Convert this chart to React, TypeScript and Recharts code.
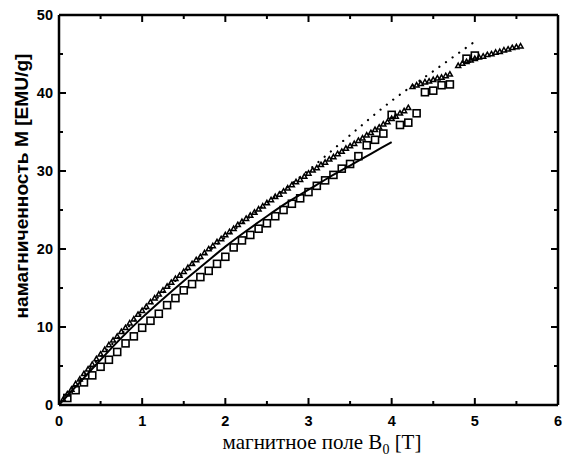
import { ComposedChart, Line, Scatter, XAxis, YAxis, Label } from 'recharts';

// squares (measured M vs B0)
const squareB = [0.1, 0.2, 0.3, 0.4, 0.5, 0.6, 0.7, 0.8, 0.9, 1.0, 1.1, 1.2, 1.3, 1.4, 1.5, 1.6, 1.7, 1.8, 1.9, 2.0, 2.1, 2.2, 2.3, 2.4, 2.5, 2.6, 2.7, 2.8, 2.9, 3.0, 3.1, 3.2, 3.3, 3.4, 3.5, 3.6, 3.7, 3.8, 3.9, 4.0, 4.1, 4.2, 4.3, 4.4, 4.5, 4.6, 4.7, 4.9, 5.0];
const squareM = [0.9, 1.9, 2.9, 3.8, 4.9, 5.8, 6.8, 7.9, 8.8, 9.9, 10.8, 11.7, 12.8, 13.7, 14.7, 15.5, 16.4, 17.2, 18.1, 19.0, 20.2, 21.1, 21.8, 22.6, 23.3, 24.2, 25.0, 25.8, 26.5, 27.3, 28.1, 28.8, 29.5, 30.3, 30.9, 31.9, 33.3, 34.0, 34.8, 37.2, 35.9, 36.2, 37.4, 40.1, 40.3, 41.0, 41.1, 44.4, 44.8];

// triangles (second sample)
const triangleB = [0.05, 0.1, 0.15, 0.2, 0.25, 0.3, 0.35, 0.4, 0.45, 0.5, 0.55, 0.6, 0.65, 0.7, 0.75, 0.8, 0.85, 0.9, 0.95, 1.0, 1.05, 1.1, 1.15, 1.2, 1.25, 1.3, 1.35, 1.4, 1.45, 1.5, 1.55, 1.6, 1.65, 1.7, 1.75, 1.8, 1.85, 1.9, 1.95, 2.0, 2.05, 2.1, 2.15, 2.2, 2.25, 2.3, 2.35, 2.4, 2.45, 2.5, 2.55, 2.6, 2.65, 2.7, 2.75, 2.8, 2.85, 2.9, 2.95, 3.0, 3.05, 3.1, 3.15, 3.2, 3.25, 3.3, 3.35, 3.4, 3.45, 3.5, 3.55, 3.6, 3.65, 3.7, 3.75, 3.8, 3.85, 3.9, 3.95, 4.0, 4.05, 4.1, 4.15, 4.2,
  4.25, 4.3, 4.35, 4.4, 4.45, 4.5, 4.55, 4.6, 4.65, 4.7,
  4.8, 4.85, 4.9, 4.95, 5.0, 5.05, 5.1, 5.15, 5.2, 5.25, 5.3, 5.35, 5.4, 5.45, 5.5, 5.55];
const triangleM = [0.7, 1.4, 2.0, 2.7, 3.3, 4.0, 4.6, 5.2, 5.9, 6.5, 7.1, 7.7, 8.3, 8.8, 9.4, 9.9, 10.5, 11.0, 11.6, 12.1, 12.6, 13.2, 13.7, 14.2, 14.7, 15.2, 15.7, 16.2, 16.6, 17.1, 17.6, 18.1, 18.6, 19.0, 19.5, 20.0, 20.4, 20.9, 21.3, 21.8, 22.2, 22.6, 23.1, 23.5, 23.9, 24.3, 24.7, 25.1, 25.5, 25.9, 26.3, 26.7, 27.0, 27.4, 27.8, 28.2, 28.6, 28.9, 29.3, 29.7, 30.1, 30.4, 30.8, 31.1, 31.5, 31.8, 32.2, 32.5, 32.9, 33.2, 33.5, 33.9, 34.2, 34.6, 34.9, 35.3, 35.6, 36.0, 36.3, 36.7, 37.0, 37.4, 37.7, 38.1,
  40.8, 41.0, 41.2, 41.4, 41.5, 41.7, 41.9, 42.0, 42.2, 42.4,
  43.5, 43.8, 44.0, 44.2, 44.4, 44.6, 44.7, 44.9, 45.0, 45.2, 45.3, 45.5, 45.6, 45.8, 45.9, 46.0];

// solid curve
const fitB = [0, 0.25, 0.5, 0.75, 1.0, 1.25, 1.5, 1.75, 2.0, 2.25, 2.5, 2.75, 3.0, 3.25, 3.5, 3.75, 4.0];
const fitM = [0, 2.9, 5.8, 8.6, 11.2, 13.6, 15.9, 18.1, 20.3, 22.3, 24.2, 26.0, 27.6, 29.2, 30.7, 32.2, 33.7];

// dotted curve
const dotB = [0, 0.5, 1.0, 1.5, 2.0, 2.5, 3.0, 3.5, 4.0, 4.5, 5.0];
const dotM = [0, 6.2, 11.8, 16.9, 21.5, 25.9, 30.1, 34.6, 39.0, 42.8, 46.6];

const xTicks = [0, 0.5, 1, 1.5, 2, 2.5, 3, 3.5, 4, 4.5, 5, 5.5, 6];
const yTicks = [0, 5, 10, 15, 20, 25, 30, 35, 40, 45, 50];

const zip = (xs: number[], ys: number[]) => xs.map((x, i) => ({ x, y: ys[i] }));
const squares = zip(squareB, squareM);
const triangles = zip(triangleB, triangleM);
const fit = zip(fitB, fitM);
const dots = zip(dotB, dotM);

const tickFont = { fontFamily: 'Liberation Sans, Arial, sans-serif', fontWeight: 700, fontSize: 14.5 };

const BottomTick = ({ x, y, payload }: any) => {
  const major = Number.isInteger(payload.value);
  return (
    <g>
      <line x1={x} x2={x} y1={y} y2={y - (major ? 7 : 4)} stroke="#000" strokeWidth={2} />
      {major && (
        <text x={x} y={y + 21} textAnchor="middle" {...tickFont}>{payload.value}</text>
      )}
    </g>
  );
};

const TopTick = ({ x, y, payload }: any) => {
  const major = Number.isInteger(payload.value);
  return <line x1={x} x2={x} y1={y} y2={y + (major ? 7 : 4)} stroke="#000" strokeWidth={2} />;
};

const LeftTick = ({ x, y, payload }: any) => {
  const major = payload.value % 10 === 0;
  return (
    <g>
      <line x1={x} x2={x + (major ? 7 : 4)} y1={y} y2={y} stroke="#000" strokeWidth={2} />
      {major && (
        <text x={x - 6} y={y + 5} textAnchor="end" {...tickFont}>{payload.value}</text>
      )}
    </g>
  );
};

const RightTick = ({ x, y, payload }: any) => {
  const major = payload.value % 10 === 0;
  return <line x1={x} x2={x - (major ? 7 : 4)} y1={y} y2={y} stroke="#000" strokeWidth={2} />;
};

const SquareDot = ({ cx, cy }: any) => (
  <rect x={cx - 3.5} y={cy - 3.5} width={7} height={7} fill="none" stroke="#000" strokeWidth={1.6} />
);

const TriangleDot = ({ cx, cy }: any) => (
  <path d={`M${cx},${cy - 2.6} L${cx + 2.5},${cy + 1.8} L${cx - 2.5},${cy + 1.8} Z`} fill="none" stroke="#000" strokeWidth={1.5} />
);

const XTitle = () => (
  <text x={322} y={449} textAnchor="middle" fontFamily="Liberation Serif, Times New Roman, serif" fontSize={21}>
    магнитное поле B<tspan fontSize={14} dy={5}>0</tspan><tspan dy={-5}> [T]</tspan>
  </text>
);

const YTitle = () => (
  <text x={0} y={0} transform="translate(28,186) rotate(-90)" textAnchor="middle"
    fontFamily="Liberation Sans Narrow, Arial Narrow, Liberation Sans, sans-serif" fontWeight={700} fontSize={18}
    textLength={265} lengthAdjust="spacingAndGlyphs">
    намагниченность M [EMU/g]
  </text>
);

export default function App() {
  return (
    <div style={{ position: 'absolute', left: 0, top: 0, background: '#fff' }}>
      <ComposedChart width={563} height={460} margin={{ top: 14, right: 4, bottom: 0, left: 0 }}>
        <XAxis xAxisId={0} dataKey="x" type="number" domain={[0, 6]} ticks={xTicks} interval={0}
          height={55} tickSize={0} tickMargin={0} tick={<BottomTick />}
          axisLine={{ stroke: '#000', strokeWidth: 2.5 }} tickLine={false} allowDataOverflow>
          <Label content={<XTitle />} />
        </XAxis>
        <XAxis xAxisId="top" orientation="top" dataKey="x" type="number" domain={[0, 6]} ticks={xTicks} interval={0}
          height={1} tickSize={0} tickMargin={0} tick={<TopTick />}
          axisLine={{ stroke: '#000', strokeWidth: 2.5 }} tickLine={false} allowDataOverflow />
        <YAxis yAxisId={0} dataKey="y" type="number" domain={[0, 50]} ticks={yTicks} interval={0}
          width={59} tickSize={0} tickMargin={0} tick={<LeftTick />}
          axisLine={{ stroke: '#000', strokeWidth: 2.5 }} tickLine={false} allowDataOverflow>
          <Label content={<YTitle />} />
        </YAxis>
        <YAxis yAxisId="right" orientation="right" dataKey="y" type="number" domain={[0, 50]} ticks={yTicks} interval={0}
          width={1} tickSize={0} tickMargin={0} tick={<RightTick />}
          axisLine={{ stroke: '#000', strokeWidth: 2.5 }} tickLine={false} allowDataOverflow />
        <Line data={fit} dataKey="y" type="monotone" stroke="#000" strokeWidth={2} dot={false} isAnimationActive={false} />
        <Line data={dots} dataKey="y" type="monotone" stroke="#000" strokeWidth={2.2} strokeDasharray="0.1 8"
          strokeLinecap="round" dot={false} isAnimationActive={false} />
        <Scatter data={squares} dataKey="y" shape={<SquareDot />} isAnimationActive={false} />
        <Scatter data={triangles} dataKey="y" shape={<TriangleDot />} isAnimationActive={false} />
      </ComposedChart>
    </div>
  );
}
